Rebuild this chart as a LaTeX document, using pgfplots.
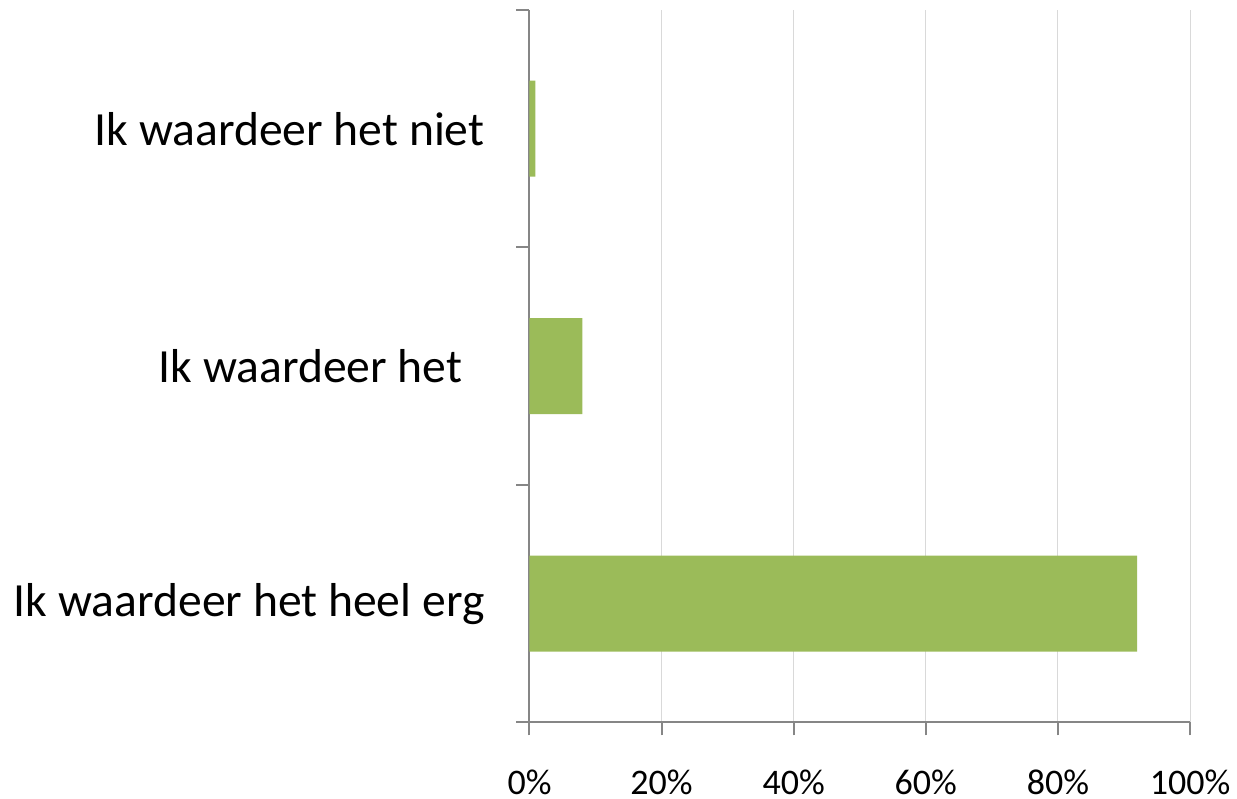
\documentclass[border=0pt]{standalone}
\usepackage{pgfplots}
\pgfplotsset{compat=1.18}
\usepackage{fontspec}
\setmainfont{Carlito}
\definecolor{bargreen}{HTML}{9BBB59}
\definecolor{axgray}{HTML}{868686}
\definecolor{gridgray}{HTML}{D9D9D9}
\begin{document}
\begin{tikzpicture}
\begin{axis}[
  scale only axis, width=660.5pt, height=712.5pt,
  xbar, bar width=96pt,
  xmin=0, xmax=100, ymin=-0.5, ymax=2.5,
  axis x line=bottom, axis y line=left,
  axis line style={axgray, line width=2pt, -},
  xtick={0,20,40,60,80,100},
  xticklabels={0\%,20\%,40\%,60\%,80\%,100\%},
  xticklabel style={font=\fontsize{36}{43}\selectfont, inner sep=0pt, anchor=north, yshift=-34pt, text depth=0pt},
  xmajorgrids, major grid style={gridgray, line width=1pt},
  tick align=outside, major tick length=13pt,
  tick style={axgray, line width=2pt},
  ytick={-0.5,0.5,1.5,2.5}, yticklabels={},
  extra y ticks={0,1,2},
  extra y tick labels={Ik waardeer het heel erg, Ik waardeer het\hspace*{22pt}\null, Ik waardeer het niet},
  extra y tick style={tick style={draw=none}, yticklabel style={font=\fontsize{47.6}{57}\selectfont, inner sep=0pt, anchor=east, xshift=-32pt}},
  clip=false,
]
\addplot[fill=bargreen, draw=none] coordinates {(92,0) (8,1) (0.9,2)};
\coordinate (O) at (axis cs:0,-0.5);
\end{axis}
\pgfresetboundingbox
\path (O) ++(-529.5pt,-76.5pt) rectangle ++(1237pt,799pt);
\end{tikzpicture}
\end{document}
